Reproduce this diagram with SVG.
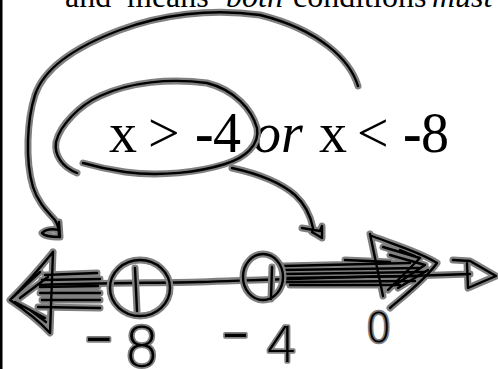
<svg xmlns="http://www.w3.org/2000/svg" xmlns:xlink="http://www.w3.org/1999/xlink" width="498" height="369" viewBox="0 0 498 369">
<style>
  .serif { font-family: "Liberation Serif", "Times New Roman", serif; fill: #000; }
  .halo { fill: none; stroke: #808080; stroke-width: 7; stroke-linecap: round; stroke-linejoin: round; }
  .core { fill: none; stroke: #000; stroke-width: 2.4; stroke-linecap: round; stroke-linejoin: round; }
  .hand { font-family: "DejaVu Sans", "Liberation Sans", sans-serif; font-weight: 200; fill: #000; stroke: #808080; stroke-width: 3.5; paint-order: stroke; stroke-linejoin: round; }
</style>
<defs>
  <path id="outerArc" d="M358,86 C350,60 320,30 260,15 C210,8 160,15 120,30 C80,45 45,65 35,95 C27,120 25,160 33,187 C38,203 48,212 55,220 C59,226 59,232 59,236"/>
  <path id="outerHead" d="M59,222 L60,237 C52,237 44,236 42,233 C46,229 54,229 59,230"/>
  <path id="innerLoop" d="M77,173 C62,167 54,155 56,142 C60,125 80,105 100,96 C130,82 170,78 207,83 C235,90 252,110 257,128 C260,145 245,158 225,164 C200,172 160,177 125,172 C105,169 90,165 83,163"/>
  <path id="innerArrow" d="M232,168 C255,173 280,182 295,195 C307,206 311,218 313,228"/>
  <path id="innerHead" d="M302,228 L320,231 L322,226 L322,238 L312,232"/>
  <path id="axis" d="M40,285 C100,283 150,283 200,282 C260,280 330,277 410,276 L470,274"/>
  <path id="axisEnd" d="M453,260 L470,261 L496,276 L468,288 L467,263"/>
  <path id="leftHead" d="M53,252 C40,268 22,288 10,300 C25,310 40,322 50,333 L53,252 M20,298 L48,277 M15,302 L45,318 M30,310 L46,322 M12,298 L40,272"/>
  <path id="leftShade" d="M45,275 L97,273 M42,280 L100,279 M40,287 L98,286 M40,293 L100,293 M42,300 L100,300 M38,307 L100,308"/>
  <path id="rightShade" d="M283,266 L410,263 M283,270 L420,268 M283,274 L425,272 M283,278 L420,276 M285,282 L415,281 M290,285 L400,285 M345,260 L390,262"/>
  <path id="rightHead" d="M370,234 L383,296 M372,236 C395,245 420,252 437,263 C425,280 405,295 390,308 M383,247 L420,258 L388,290 M390,255 L425,265 L395,285 M400,250 L415,256 M398,288 L428,270"/>
  <ellipse id="c8" cx="140" cy="288" rx="30" ry="28"/>
  <path id="t8" d="M135,268 L137,311"/>
  <ellipse id="c4" cx="263" cy="277" rx="20" ry="23"/>
  <path id="t4" d="M272,267 L271,299"/>
</defs>

<rect x="0" y="0" width="2.5" height="369" fill="#000"/>

<g id="title">
  <text class="serif" y="7" font-size="32">
    <tspan x="65">and "</tspan><tspan x="127">means</tspan>
    <tspan x="226" font-style="italic">both</tspan>
    <tspan x="293">conditions</tspan>
    <tspan x="432" font-style="italic">must</tspan>
  </text>
</g>

<g id="inequality">
  <text class="serif" y="152" font-size="56">
    <tspan x="109">x</tspan><tspan x="148">&gt;</tspan><tspan x="195" font-weight="bold">-</tspan><tspan x="213">4</tspan><tspan x="253" font-style="italic">or</tspan><tspan x="319">x</tspan><tspan x="357">&lt;</tspan><tspan x="403" font-weight="bold">-</tspan><tspan x="421">8</tspan>
  </text>
</g>

<g id="connectors">
  <g class="halo">
    <use xlink:href="#outerArc"/><use xlink:href="#outerHead"/>
    <use xlink:href="#innerLoop"/><use xlink:href="#innerArrow"/><use xlink:href="#innerHead"/>
  </g>
  <g class="core">
    <use xlink:href="#outerArc"/><use xlink:href="#outerHead"/>
    <use xlink:href="#innerLoop"/><use xlink:href="#innerArrow"/><use xlink:href="#innerHead"/>
  </g>
</g>

<g id="number-line">
  <g class="halo">
    <use xlink:href="#axis"/><use xlink:href="#axisEnd"/>
    <use xlink:href="#leftShade"/><use xlink:href="#leftHead"/>
    <use xlink:href="#rightShade"/><use xlink:href="#rightHead"/>
  </g>
  <g class="core">
    <use xlink:href="#axis"/><use xlink:href="#axisEnd"/>
    <use xlink:href="#leftShade"/><use xlink:href="#leftHead"/>
    <use xlink:href="#rightShade"/><use xlink:href="#rightHead"/>
  </g>
</g>

<g id="point-minus8">
  <use class="halo" xlink:href="#c8"/><use class="halo" xlink:href="#t8"/>
  <use class="core" xlink:href="#c8"/><use class="core" xlink:href="#t8"/>
</g>
<g id="point-minus4">
  <use class="halo" xlink:href="#c4"/><use class="halo" xlink:href="#t4"/>
  <use class="core" xlink:href="#c4"/><use class="core" xlink:href="#t4"/>
</g>

<g id="label-minus8">
  <text class="hand" font-size="56"><tspan x="84" y="362" font-size="82">-</tspan><tspan x="124" y="366">8</tspan></text>
</g>
<g id="label-minus4">
  <text class="hand" font-size="50"><tspan x="221" y="357" font-size="80">-</tspan><tspan x="266" y="362">4</tspan></text>
</g>
<g id="label-zero">
  <text class="hand" font-size="38"><tspan x="366" y="342" font-size="40">0</tspan></text>
</g>
</svg>
